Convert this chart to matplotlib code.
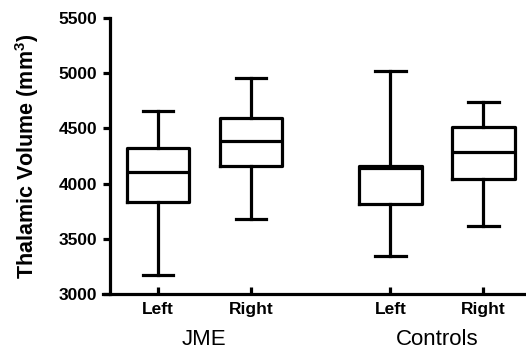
import matplotlib
matplotlib.use('Agg')
import matplotlib.pyplot as plt

plt.rcParams['font.family'] = ['Liberation Sans', 'DejaVu Sans']
plt.rcParams['mathtext.fontset'] = 'custom'
plt.rcParams['mathtext.rm'] = 'Liberation Sans:bold'
plt.rcParams['mathtext.bf'] = 'Liberation Sans:bold'

# box statistics
groups = ['JME', 'Controls']
sides = ['Left', 'Right', 'Left', 'Right']
positions = [1, 2, 3.5, 4.5]
whislo = [3172, 3677, 3344, 3619]
q1 = [3830, 4159, 3812, 4039]
med = [4105, 4389, 4138, 4286]
q3 = [4325, 4591, 4162, 4510]
whishi = [4658, 4954, 5023, 4742]
yticks = [3000, 3500, 4000, 4500, 5000, 5500]

stats = []
for i in range(len(sides)):
    stats.append({'whislo': whislo[i], 'q1': q1[i], 'med': med[i],
                  'q3': q3[i], 'whishi': whishi[i], 'fliers': []})

fig = plt.figure(figsize=(5.26, 3.5), dpi=100)
ax = fig.add_axes([0.1958, 0.16, 0.8042, 0.7886])

lw = 2.3
ax.bxp(stats, positions=positions, widths=0.67, capwidths=0.33,
       showfliers=False,
       boxprops=dict(color='black', linewidth=lw),
       medianprops=dict(color='black', linewidth=lw),
       whiskerprops=dict(color='black', linewidth=lw),
       capprops=dict(color='black', linewidth=lw))

ax.set_xlim(0.409, 4.957)
ax.set_ylim(3000, 5500)
ax.spines['top'].set_visible(False)
ax.spines['right'].set_visible(False)
ax.spines['left'].set_position(('data', 0.484))
ax.spines['left'].set_linewidth(lw)
ax.spines['bottom'].set_linewidth(lw)

ax.set_yticks(yticks)
ax.set_yticklabels([str(t) for t in yticks], fontsize=12.5, fontweight='bold')
ax.set_xticks(positions)
ax.set_xticklabels(sides, fontsize=12.5, fontweight='bold')
ax.tick_params(axis='y', direction='out', length=5, width=lw, pad=4)
ax.tick_params(axis='x', direction='in', length=5, width=lw, pad=6)

ax.set_ylabel(r'Thalamic Volume (mm$^3$)', fontsize=15.5, fontweight='bold',
              labelpad=13)

trans = ax.get_xaxis_transform()
ax.text((positions[0] + positions[1]) / 2, -0.165, groups[0], transform=trans,
        ha='center', va='center', fontsize=16)
ax.text((positions[2] + positions[3]) / 2, -0.165, groups[1], transform=trans,
        ha='center', va='center', fontsize=16)

fig.savefig('out.png', dpi=100)
